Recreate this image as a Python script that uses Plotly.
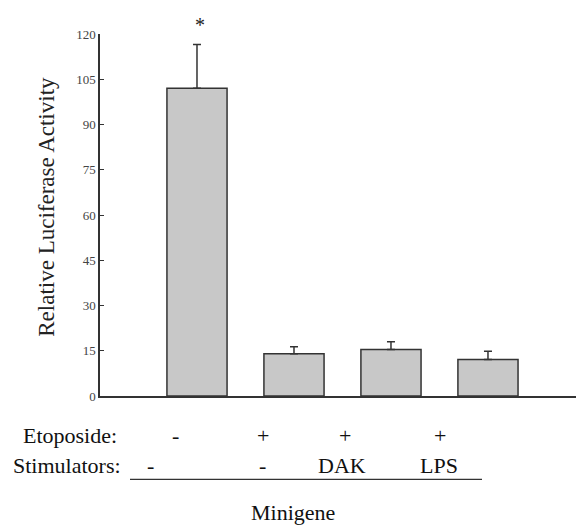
import plotly.graph_objects as go

categories = ["Minigene", "Etoposide", "Etoposide + DAK", "Etoposide + LPS"]
values = [102, 14, 15.4, 12.1]
errors = [14.5, 2.3, 2.6, 2.7]
ytick_vals = [0, 15, 30, 45, 60, 75, 90, 105, 120]
etoposide_labels = ["-", "+", "+", "+"]
etoposide_pos = [-0.22, 0.68, 1.53, 2.51]
stim_labels = ["-", "-", "DAK", "LPS"]
stim_pos = [-0.48, 0.68, 1.5, 2.5]
sig_marks = ["*", "", "", ""]

SERIF = "Liberation Serif, Times New Roman, serif"
FS = 22

# page body has an 8px margin; plot area height 362.5
W, H = 576, 517
L, T, B = 92, 26, 128.5
PH = H - T - B

def py(pix):  # reference pixel y -> paper y
    return ((396.5) - pix) / PH

def px(pix):  # reference pixel x -> paper x
    return (pix - 100) / (W - L)

fig = go.Figure()
fig.add_trace(go.Bar(
    x=list(range(len(categories))), y=values,
    width=0.62,
    marker=dict(color="#c8c8c8", line=dict(color="#333333", width=1.5)),
    error_y=dict(type="data", array=errors, arrayminus=[0]*len(errors), symmetric=False,
                 color="#333333", thickness=1.5, width=4),
    hoverinfo="skip",
))

ann = []
for i, s in enumerate(sig_marks):
    if s:
        ann.append(dict(x=i, y=values[i] + errors[i], xref="x", yref="y", text=s,
                        showarrow=False, yshift=20, xshift=3, yanchor="middle",
                        font=dict(family=SERIF, size=20, color="#222")))
for lab, xp in zip(etoposide_labels, etoposide_pos):
    ann.append(dict(x=xp, y=py(436), xref="x", yref="paper", text=lab, showarrow=False,
                    font=dict(family=SERIF, size=FS, color="#111"), yanchor="middle"))
for lab, xp in zip(stim_labels, stim_pos):
    ann.append(dict(x=xp, y=py(466), xref="x", yref="paper", text=lab, showarrow=False,
                    font=dict(family=SERIF, size=FS, color="#111"), yanchor="middle"))
ann.append(dict(x=px(119), y=py(436), xref="paper", yref="paper", text="Etoposide:", showarrow=False,
                xanchor="right", yanchor="middle", font=dict(family=SERIF, size=FS, color="#111")))
ann.append(dict(x=px(123), y=py(466), xref="paper", yref="paper", text="Stimulators:", showarrow=False,
                xanchor="right", yanchor="middle", font=dict(family=SERIF, size=FS, color="#111")))
ann.append(dict(x=px(293), y=py(513), xref="paper", yref="paper", text="Minigene", showarrow=False,
                xanchor="center", yanchor="middle", font=dict(family=SERIF, size=FS, color="#111")))
ann.append(dict(x=px(47), y=py(207), xref="paper", yref="paper", text="Relative Luciferase Activity",
                showarrow=False, textangle=-90, xanchor="center", yanchor="middle",
                font=dict(family=SERIF, size=23, color="#222")))

fig.update_layout(
    width=W, height=H,
    margin=dict(l=L, r=0, t=T, b=B),
    paper_bgcolor="white", plot_bgcolor="white",
    showlegend=False,
    annotations=ann,
    shapes=[dict(type="line", xref="paper", yref="paper", x0=px(130), x1=px(482), y0=py(480), y1=py(480),
                 line=dict(color="#333", width=1.2))],
    xaxis=dict(range=[-1, 3.99], showline=True, linecolor="#333", linewidth=1.5,
               showticklabels=False, ticks="", showgrid=False, zeroline=False),
    yaxis=dict(range=[0, 120], tickvals=ytick_vals, showline=True, linecolor="#333", linewidth=1.5,
               ticks="inside", ticklen=4, tickcolor="#333", showgrid=False, zeroline=False,
               tickfont=dict(family=SERIF, size=13, color="#444")),
)

fig.write_html("out.html")
